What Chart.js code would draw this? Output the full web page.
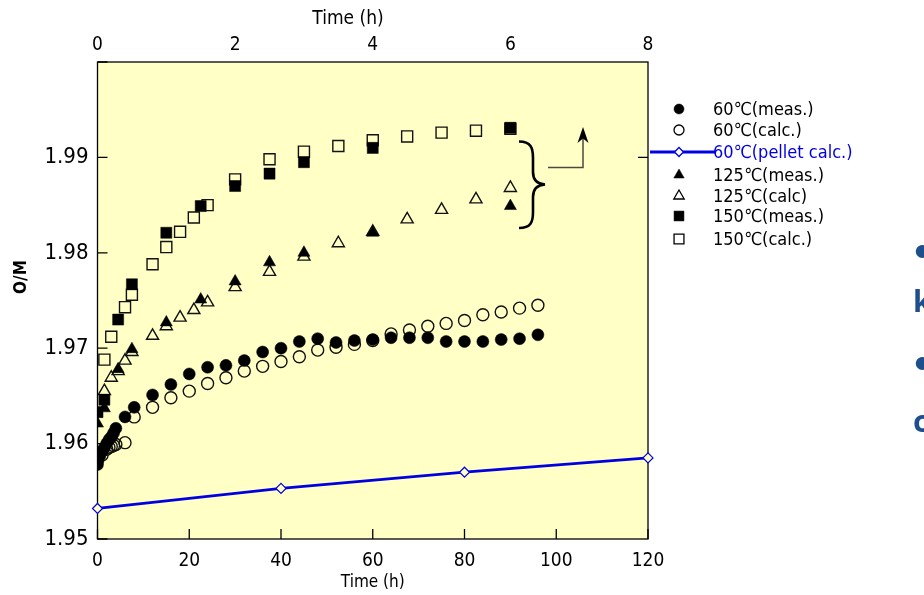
<!DOCTYPE html>
<html><head><meta charset="utf-8">
<script src="https://cdn.jsdelivr.net/npm/chart.js@4/dist/chart.umd.min.js"></script>
<style>
html,body{margin:0;padding:0;background:#fff;overflow:hidden;width:924px;height:595px;}
#wrap{position:relative;width:924px;height:595px;overflow:hidden;}
canvas{position:absolute;left:0;top:0;}
.frag{position:absolute;left:913px;color:#1F4E8C;font:bold 30px 'Noto Sans','Open Sans',sans-serif;line-height:30px;white-space:nowrap;}
</style></head>
<body><div id="wrap"><canvas id="c" width="924" height="595"></canvas>
<div class="frag" style="top:234px">●</div>
<div class="frag" style="top:286px">k</div>
<div class="frag" style="top:346px">●</div>
<div class="frag" style="top:406px">c</div>
</div>
<script>
// ---- data (time in h, O/M ratio) ----
const t60meas = [0,0.5,1,1.5,2,2.5,3,3.5,4,6,8,12,16,20,24,28,32,36,40,44,48,52,56,60,64,68,72,76,80,84,88,92,96];
const om60meas = [1.9578,1.9587,1.9592,1.9596,1.9600,1.9604,1.9607,1.9611,1.9616,1.9628,1.9638,1.9651,1.9662,1.9673,1.9680,1.9682,1.9687,1.9696,1.9700,1.9707,1.9710,1.9706,1.9708,1.9709,1.9711,1.9711,1.9711,1.9707,1.9707,1.9707,1.9709,1.9710,1.9714];
const t60calc = [0,1,2,2.5,3,3.5,4,6,8,12,16,20,24,28,32,36,40,44,48,52,56,60,64,68,72,76,80,84,88,92,96];
const om60calc = [1.9582,1.9588,1.9594,1.9596,1.9597,1.9598,1.9599,1.9601,1.9628,1.9638,1.9648,1.9655,1.9663,1.9669,1.9676,1.9681,1.9686,1.9691,1.9698,1.9701,1.9704,1.9708,1.9715,1.9719,1.9723,1.9726,1.9729,1.9735,1.9738,1.9742,1.9745];
const tPellet = [0,40,80,120];
const omPellet = [1.9532,1.9553,1.9570,1.9585];
const t125meas = [0,1.5,4.5,7.5,15,22.5,30,37.5,45,60,90];
const om125meas = [1.9621,1.9637,1.9678,1.9699,1.9727,1.9751,1.9770,1.9790,1.9800,1.9821,1.9849];
const t125calc = [1.5,3,4.5,6,7.5,12,15,18,21,24,30,37.5,45,52.5,60,67.5,75,82.5,90];
const om125calc = [1.9655,1.9669,1.9676,1.9687,1.9696,1.9713,1.9723,1.9732,1.9740,1.9748,1.9764,1.9780,1.9796,1.9810,1.9822,1.9835,1.9845,1.9856,1.9868];
const t150meas = [0,1.5,4.5,7.5,15,22.5,30,37.5,45,60,90];
const om150meas = [1.9633,1.9646,1.9730,1.9767,1.9821,1.9849,1.9870,1.9883,1.9895,1.9910,1.9931];
const t150calc = [1.5,3,6,7.5,12,15,18,21,24,30,37.5,45,52.5,60,67.5,75,82.5,90];
const om150calc = [1.9688,1.9712,1.9743,1.9756,1.9788,1.9806,1.9822,1.9837,1.9850,1.9877,1.9898,1.9906,1.9912,1.9918,1.9922,1.9926,1.9928,1.9930];

const legendLabels = ['60℃(meas.)','60℃(calc.)','60℃(pellet calc.)','125℃(meas.)','125℃(calc)','150℃(meas.)','150℃(calc.)'];
const yTicks = [1.95,1.96,1.97,1.98,1.99,2.00];
const xTicks = [0,20,40,60,80,100,120];
const xTopTicks = [0,2,4,6,8];
const xTitle = 'Time (h)';
const xTopTitle = 'Time (h)';
const yTitle = 'O/M';

const FONT = "'Liberation Sans Narrow','DejaVu Sans Condensed','Liberation Sans','Noto Sans CJK JP',sans-serif";
const BG = '#FFFFC6';
const pts = (xs, ys) => xs.map((x,i)=>({x, y: ys[i]}));

function ds(label, xs, ys, style, filled, r, extra) {
  return Object.assign({
    label, data: pts(xs, ys), showLine: false,
    pointStyle: style, pointRadius: r, pointHoverRadius: r,
    pointBackgroundColor: filled ? '#000' : 'rgba(0,0,0,0)',
    pointBorderColor: filled ? '#000' : '#111',
    pointBorderWidth: filled ? 0.5 : 1.4,
    xAxisID: 'x', yAxisID: 'y'
  }, extra || {});
}

const datasets = [
  ds(legendLabels[0], t60meas, om60meas, 'circle', true, 6),
  ds(legendLabels[3], t125meas, om125meas, 'triangle', true, 7),
  ds(legendLabels[5], t150meas, om150meas, 'rect', true, 7.8),
  ds(legendLabels[1], t60calc, om60calc, 'circle', false, 6),
  ds(legendLabels[4], t125calc, om125calc, 'triangle', false, 7),
  ds(legendLabels[6], t150calc, om150calc, 'rect', false, 7.8),
  {label: legendLabels[2], data: pts(tPellet, omPellet), showLine: true,
   borderColor: '#0000E0', borderWidth: 2.8, pointStyle: 'rectRot', pointRadius: 5,
   pointBackgroundColor: BG, pointBorderColor: '#0000E0', pointBorderWidth: 1.2,
   clip: false, tension: 0, xAxisID: 'x', yAxisID: 'y'}
];

const legendRows = [
  {text: legendLabels[0], style:'circle', fill:true, r:5, y:110},
  {text: legendLabels[1], style:'circle', fill:false, r:5, y:131},
  {text: legendLabels[2], style:'rectRot', fill:false, r:4.5, y:153, blue:true},
  {text: legendLabels[3], style:'triangle', fill:true, r:6, y:176},
  {text: legendLabels[4], style:'triangle', fill:false, r:6, y:197},
  {text: legendLabels[5], style:'rect', fill:true, r:7, y:217},
  {text: legendLabels[6], style:'rect', fill:false, r:7, y:240}
];

const deco = {
  id: 'deco',
  beforeDraw(chart) {
    const {ctx, chartArea: a} = chart;
    ctx.save();
    ctx.fillStyle = BG;
    ctx.fillRect(a.left, a.top, a.right - a.left, a.bottom - a.top);
    ctx.restore();
  },
  beforeDatasetsDraw(chart) {
    const {ctx, chartArea: a, scales} = chart;
    ctx.save();
    ctx.strokeStyle = '#000'; ctx.lineWidth = 1.3;
    ctx.strokeRect(a.left, a.top, a.right - a.left, a.bottom - a.top);
    ctx.beginPath();
    yTicks.forEach(v => {
      const y = scales.y.getPixelForValue(v);
      ctx.moveTo(a.left, y); ctx.lineTo(a.left + 10, y);
    });
    const yr = scales.y.getPixelForValue(1.99);
    ctx.moveTo(a.right, yr); ctx.lineTo(a.right - 10, yr);
    xTicks.forEach(v => {
      const x = scales.x.getPixelForValue(v);
      ctx.moveTo(x, a.bottom); ctx.lineTo(x, a.bottom - 10);
    });
    ctx.stroke();
    // brace
    ctx.lineWidth = 2.6; ctx.strokeStyle = '#000';
    ctx.beginPath();
    ctx.moveTo(519,141.5);
    ctx.bezierCurveTo(531,141.5,533,148,533,158);
    ctx.lineTo(533,172);
    ctx.bezierCurveTo(533,180,537,184,545,184.5);
    ctx.bezierCurveTo(537,185,533,189,533,197);
    ctx.lineTo(533,212);
    ctx.bezierCurveTo(533,222,531,228,519,228);
    ctx.stroke();
    // arrow
    ctx.strokeStyle = '#4a4a40'; ctx.lineWidth = 1.5;
    ctx.beginPath();
    ctx.moveTo(548,167.5); ctx.lineTo(583,167.5); ctx.lineTo(583,133);
    ctx.stroke();
    ctx.fillStyle = '#000';
    ctx.beginPath();
    ctx.moveTo(583,127); ctx.lineTo(588.5,143); ctx.lineTo(583,138.5); ctx.lineTo(577.5,143); ctx.closePath();
    ctx.fill();
    ctx.restore();
  },
  afterDraw(chart) {
    const {ctx, chartArea: a} = chart;
    ctx.save();
    // axis titles
    ctx.fillStyle = '#000';
    ctx.font = "17px " + FONT;
    ctx.textAlign = 'center'; ctx.textBaseline = 'middle';
    ctx.fillText(xTitle, (a.left + a.right) / 2, 583);
    ctx.font = "19px " + FONT;
    ctx.fillText(xTopTitle, 348, 19);
    ctx.save();
    ctx.translate(22, 277); ctx.rotate(-Math.PI/2);
    ctx.font = "bold 17px " + FONT;
    ctx.fillText(yTitle, 0, 0);
    ctx.restore();
    // legend
    ctx.font = "18px " + FONT;
    ctx.textAlign = 'left'; ctx.textBaseline = 'middle';
    legendRows.forEach(row => {
      const col = row.blue ? '#0000E0' : '#000';
      if (row.blue) {
        ctx.strokeStyle = col; ctx.lineWidth = 2.8;
        ctx.beginPath(); ctx.moveTo(650, row.y - 1); ctx.lineTo(716, row.y - 1); ctx.stroke();
      }
      ctx.fillStyle = row.fill ? '#000' : (row.blue ? '#fff' : 'rgba(0,0,0,0)');
      ctx.strokeStyle = col;
      ctx.lineWidth = row.fill ? 0.5 : 1.3;
      Chart.helpers.drawPoint(ctx, {pointStyle: row.style, radius: row.r, rotation: 0, borderWidth: ctx.lineWidth}, 679, row.y - 1);
      ctx.fillStyle = col;
      ctx.fillText(row.text, 713, row.y);
    });
    ctx.restore();
  }
};

new Chart(document.getElementById('c'), {
  type: 'scatter',
  data: { datasets },
  options: {
    responsive: false, animation: false,
    layout: { padding: { left: 0, right: 924 - 648, top: 0, bottom: 0 } },
    plugins: { legend: { display: false }, tooltip: { enabled: false } },
    scales: {
      x: {
        type: 'linear', position: 'bottom', min: 0, max: 120,
        afterBuildTicks: s => { s.ticks = xTicks.map(v => ({value: v})); },
        afterFit: s => { s.height = 595 - 539; },
        grid: { display: false, drawTicks: false },
        border: { display: false },
        ticks: { padding: 11, color: '#000', font: { family: FONT, size: 19 }, maxRotation: 0,
                 callback: v => String(v) }
      },
      xTop: {
        type: 'linear', position: 'top', min: 0, max: 8,
        afterBuildTicks: s => { s.ticks = xTopTicks.map(v => ({value: v})); },
        afterFit: s => { s.height = 62; },
        grid: { display: false, drawTicks: false },
        border: { display: false },
        ticks: { padding: 6, color: '#000', font: { family: FONT, size: 19 }, maxRotation: 0,
                 callback: v => String(v) }
      },
      y: {
        type: 'linear', position: 'left', min: 1.95, max: 2.0,
        afterBuildTicks: s => { s.ticks = yTicks.map(v => ({value: v})); },
        afterFit: s => { s.width = 97.5; },
        grid: { display: false, drawTicks: false },
        border: { display: false },
        ticks: { padding: 9, color: '#000', font: { family: FONT, size: 22 },
                 callback: v => v >= 1.9995 ? '' : v.toFixed(2) }
      }
    }
  },
  plugins: [deco]
});
</script>
</body></html>
